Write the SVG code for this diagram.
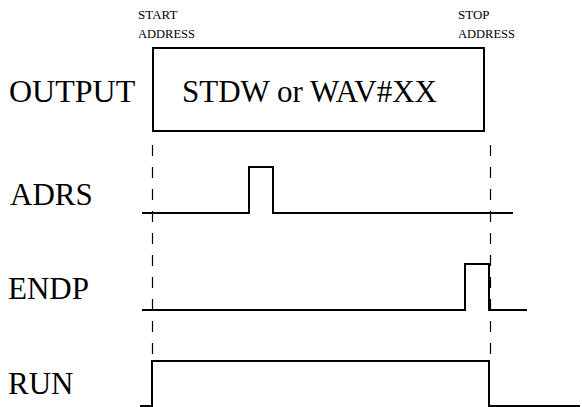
<svg xmlns="http://www.w3.org/2000/svg" width="582" height="407" viewBox="0 0 582 407">
<style>
text{font-family:'Liberation Serif','Times New Roman',serif;fill:#000}
.lbl{font-size:31px}
.sm{font-size:13px}
.sig{fill:none;stroke:#000;stroke-width:2}
.dash{fill:none;stroke:#000;stroke-width:1.2;stroke-dasharray:11 11}
</style>
<rect width="582" height="407" fill="#fff"/>
<g id="start-address"><text class="sm" x="138" y="19">START</text><text class="sm" x="138" y="38" textLength="57" lengthAdjust="spacingAndGlyphs">ADDRESS</text></g>
<g id="stop-address"><text class="sm" x="458" y="19">STOP</text><text class="sm" x="458" y="38" textLength="57" lengthAdjust="spacingAndGlyphs">ADDRESS</text></g>
<g id="output"><text class="lbl" x="9" y="102" style="font-size:32px">OUTPUT</text><rect x="153" y="48" width="331" height="83" fill="none" stroke="#000" stroke-width="2"/><text class="lbl" x="182" y="102">STDW or WAV#XX</text></g>
<g id="adrs"><text class="lbl" x="10" y="205">ADRS</text><polyline class="sig" points="142,213 249,213 249,167 273,167 273,213 513,213"/></g>
<g id="endp"><text class="lbl" x="8" y="299">ENDP</text><polyline class="sig" points="142,310 465,310 465,264 489,264 489,310 527,310"/></g>
<g id="run"><text class="lbl" x="8" y="394">RUN</text><polyline class="sig" points="140,406 152,406 152,361 489,361 489,406 580,406"/></g>
<g id="connectors"><line class="dash" x1="152.5" y1="145" x2="152.5" y2="356"/><line class="dash" x1="490.5" y1="145" x2="490.5" y2="356"/></g>
</svg>
